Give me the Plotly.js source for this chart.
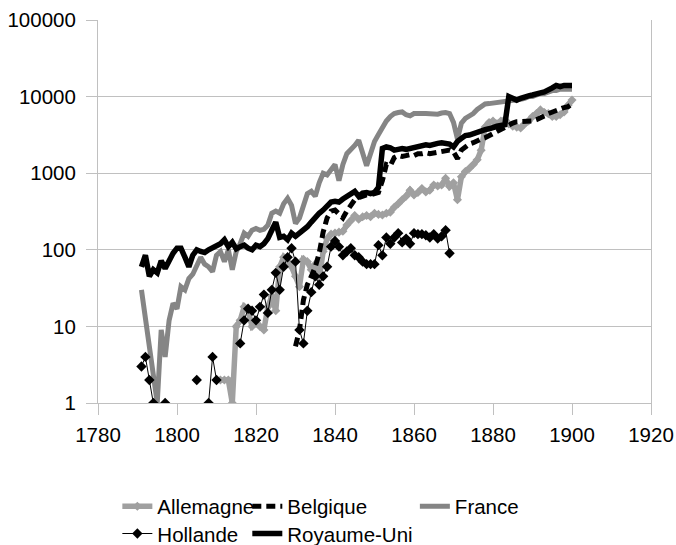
<!DOCTYPE html>
<html>
<head>
<meta charset="utf-8">
<script src="https://cdn.plot.ly/plotly-3.0.1.min.js"></script>
<style>
  html, body { margin: 0; padding: 0; background: #ffffff; }
  #chart { width: 676px; height: 545px; }
</style>
</head>
<body>
<div id="chart"></div>
<script>
const years = [
  1791,1792,1793,1794,1795,1796,1797,1798,1799,1800,
  1801,1802,1803,1804,1805,1806,1807,1808,1809,1810,
  1811,1812,1813,1814,1815,1816,1817,1818,1819,1820,
  1821,1822,1823,1824,1825,1826,1827,1828,1829,1830,
  1831,1832,1833,1834,1835,1836,1837,1838,1839,1840,
  1841,1842,1843,1844,1845,1846,1847,1848,1849,1850,
  1851,1852,1853,1854,1855,1856,1857,1858,1859,1860,
  1861,1862,1863,1864,1865,1866,1867,1868,1869,1870,
  1871,1872,1873,1874,1875,1876,1877,1878,1879,1880,
  1881,1882,1883,1884,1885,1886,1887,1888,1889,1890,
  1891,1892,1893,1894,1895,1896,1897,1898,1899,1900
];

const allemagne = [
  null,null,null,null,null,null,null,null,null,null,
  null,null,null,null,null,null,null,null,null,null,
  2,2,2,1,10,12,18,16,10,11,
  10,9,18,25,16,60,80,70,60,45,
  33,75,70,55,65,42,95,140,160,165,
  170,175,210,240,280,250,270,280,270,300,
  290,285,300,310,360,400,450,500,600,520,
  560,630,570,600,700,680,700,860,670,750,
  450,900,1050,1150,1300,1500,2000,4000,4600,4800,
  4400,4800,5000,4400,4100,4000,3900,4400,4800,5500,
  6000,6700,6200,6000,5500,5500,5800,6300,7700,9000
];

const belgique = [
  null,null,null,null,null,null,null,null,null,null,
  null,null,null,null,null,null,null,null,null,null,
  null,null,null,null,null,null,null,null,null,null,
  null,null,null,null,null,null,null,null,null,5.5,
  9,22,35,45,60,90,170,260,320,330,
  300,260,320,370,450,480,500,520,520,530,
  560,800,1300,1250,1600,1700,1650,1700,1750,1700,
  1800,1800,1850,1800,1850,1900,1900,2000,2000,1900,
  1550,2000,2200,2400,2500,2700,2800,2900,3100,3300,
  3500,3700,4000,4300,4500,4700,4700,4700,4700,4800,
  5000,5200,5600,6000,6300,6700,7000,7200,7400,8000
];

const france = [
  30,12,5,2,1,9,4,12,20,17,
  33,30,42,48,60,80,65,60,52,85,
  95,70,100,55,95,120,165,150,180,190,
  180,185,210,300,320,300,400,470,380,220,
  260,380,540,580,500,750,1000,950,1100,1300,
  800,1300,1800,2000,2300,2700,1800,1250,1800,2600,
  3200,4000,4800,5500,6000,6200,6300,5800,5600,6000,
  6100,6000,6000,5900,5800,5900,6100,6200,6000,4600,
  2800,4500,5200,5600,6000,6800,7500,8000,8100,8200,
  8300,8500,8600,8800,8800,9000,9200,9500,10000,10000,
  10500,11000,11000,11500,12000,12000,12500,12500,12500,12500
];

const hollande = [
  3,4,2,1,null,null,1,null,null,null,
  null,null,null,null,2,null,null,1,4,2,
  null,null,null,null,null,6,12,17,16,12,
  18,26,15,30,50,30,60,80,105,70,
  9,6,16,28,45,35,45,60,110,130,
  110,85,95,105,85,80,70,65,65,65,
  115,85,145,120,145,165,125,140,120,165,
  160,160,155,145,160,140,150,180,90,null,
  null,null,null,null,null,null,null,null,null,null,
  null,null,null,null,null,null,null,null,null,null,
  null,null,null,null,null,null,null,null,null,null
];

const royaumeUni = [
  60,85,45,55,50,72,57,75,90,105,
  105,80,60,85,100,95,92,100,105,110,
  120,135,110,125,103,110,115,105,100,115,
  110,120,140,180,230,145,150,135,165,150,
  165,175,200,230,270,300,330,380,420,430,
  420,460,500,540,580,500,550,560,540,560,
  650,2100,2200,2150,2000,2050,2100,2050,2100,2150,
  2200,2300,2350,2300,2400,2450,2500,2500,2400,2200,
  2600,2850,3100,3150,3300,3500,3600,3700,3800,4000,
  4100,4200,4300,10000,9500,9000,9500,10000,10200,10500,
  11000,11200,11500,12000,13000,14000,13500,14000,14200,14000
];

const seriesNames = ['Allemagne', 'Belgique', 'France', 'Hollande', 'Royaume-Uni'];
const yTickVals = [1, 10, 100, 1000, 10000, 100000];
const yTickText = ['1', '10', '100', '1000', '10000', '100000'];
const xTickVals = [1780, 1800, 1820, 1840, 1860, 1880, 1900, 1920];

const FONT = 'Liberation Sans, Arial, sans-serif';
const GRID = '#c0c0c0';

const traces = [
  {
    x: years, y: allemagne, name: seriesNames[0], type: 'scatter', mode: 'lines+markers',
    line: { color: '#a0a0a0', width: 5.5 },
    marker: { symbol: 'diamond', size: 7, color: '#a0a0a0' },
    legend: 'legend'
  },
  {
    x: years, y: belgique, name: seriesNames[1], type: 'scatter', mode: 'lines',
    line: { color: '#000000', width: 5, dash: '9px,5px' },
    legend: 'legend2'
  },
  {
    x: years, y: france, name: seriesNames[2], type: 'scatter', mode: 'lines',
    line: { color: '#858585', width: 5 },
    legend: 'legend3'
  },
  {
    x: years, y: hollande, name: seriesNames[3], type: 'scatter', mode: 'lines+markers',
    line: { color: '#000000', width: 1 },
    marker: { symbol: 'diamond', size: 8, color: '#000000' },
    connectgaps: false,
    legend: 'legend4'
  },
  {
    x: years, y: royaumeUni, name: seriesNames[4], type: 'scatter', mode: 'lines',
    line: { color: '#000000', width: 5.5 },
    legend: 'legend5'
  }
];

const legendBase = {
  orientation: 'v',
  xanchor: 'left',
  yanchor: 'top',
  bgcolor: 'rgba(0,0,0,0)',
  borderwidth: 0,
  tracegroupgap: 0,
  itemwidth: 30,
  font: { family: FONT, size: 20.5, color: '#000000' }
};
const ROW1 = -0.218;
const ROW2 = -0.289;

const layout = {
  width: 676,
  height: 545,
  margin: { l: 98, r: 25, t: 20, b: 142, pad: 0, autoexpand: false },
  paper_bgcolor: '#ffffff',
  plot_bgcolor: '#ffffff',
  font: { family: FONT, size: 20.5, color: '#000000' },
  showlegend: true,
  xaxis: {
    range: [1780, 1920],
    tickvals: xTickVals,
    ticks: 'outside',
    ticklen: 11,
    tickcolor: GRID,
    tickwidth: 1,
    showgrid: false,
    zeroline: false,
    showline: true,
    linecolor: GRID,
    linewidth: 1,
    ticklabelstandoff: 2,
    tickfont: { family: FONT, size: 20.5, color: '#000000' }
  },
  yaxis: {
    type: 'log',
    range: [0, 5],
    tickvals: yTickVals,
    ticktext: yTickText,
    ticks: 'outside',
    ticklen: 11,
    tickcolor: GRID,
    tickwidth: 1,
    showgrid: true,
    gridcolor: GRID,
    gridwidth: 1,
    zeroline: false,
    showline: true,
    mirror: true,
    linecolor: GRID,
    linewidth: 1,
    ticklabelstandoff: 6,
    tickfont: { family: FONT, size: 20.5, color: '#000000' }
  },
  legend: Object.assign({}, legendBase, { x: 0.035, y: ROW1 }),
  legend2: Object.assign({}, legendBase, { x: 0.270, y: ROW1 }),
  legend3: Object.assign({}, legendBase, { x: 0.573, y: ROW1 }),
  legend4: Object.assign({}, legendBase, { x: 0.035, y: ROW2 }),
  legend5: Object.assign({}, legendBase, { x: 0.270, y: ROW2 })
};

Plotly.newPlot('chart', traces, layout, { displayModeBar: false, staticPlot: true });
</script>
</body>
</html>
